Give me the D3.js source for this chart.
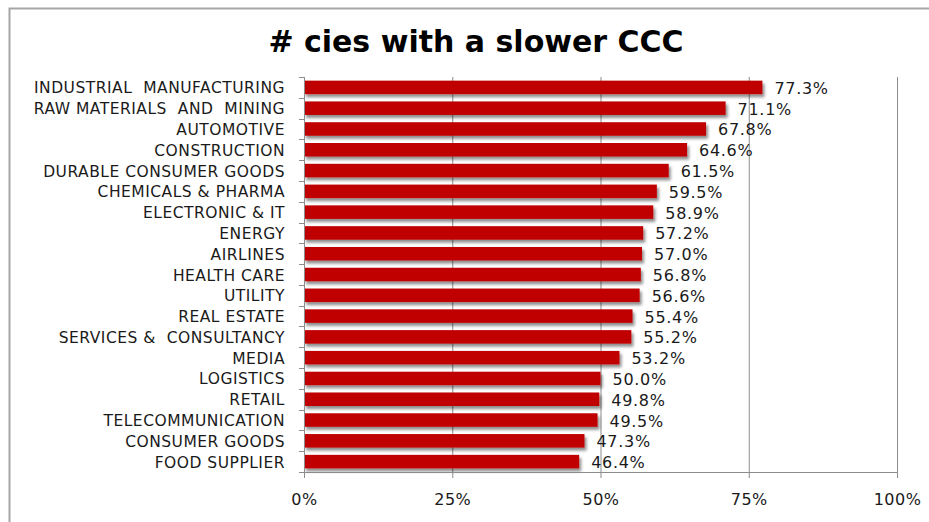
<!DOCTYPE html>
<html>
<head>
<meta charset="utf-8">
<script src="https://cdn.jsdelivr.net/npm/d3@7"></script>
<style>
  html, body { margin: 0; padding: 0; background: #fff; }
  svg { display: block; font-family: "DejaVu Sans", Verdana, sans-serif; }
</style>
</head>
<body>
<svg id="chart" width="929" height="522"></svg>
<script>
// Sectors and share of companies with a slower cash conversion cycle
const categories = [
  "INDUSTRIAL  MANUFACTURING",
  "RAW MATERIALS  AND  MINING",
  "AUTOMOTIVE",
  "CONSTRUCTION",
  "DURABLE CONSUMER GOODS",
  "CHEMICALS & PHARMA",
  "ELECTRONIC & IT",
  "ENERGY",
  "AIRLINES",
  "HEALTH CARE",
  "UTILITY",
  "REAL ESTATE",
  "SERVICES &  CONSULTANCY",
  "MEDIA",
  "LOGISTICS",
  "RETAIL",
  "TELECOMMUNICATION",
  "CONSUMER GOODS",
  "FOOD SUPPLIER"
];
const values = [77.3, 71.1, 67.8, 64.6, 61.5, 59.5, 58.9, 57.2, 57.0, 56.8,
                56.6, 55.4, 55.2, 53.2, 50.0, 49.8, 49.5, 47.3, 46.4];
const tickValues = [0, 25, 50, 75, 100];
const title = "# cies with a slower CCC";

const svg = d3.select("#chart");
const W = 929, H = 522;

// outer chart frame
svg.append("rect")
  .attr("x", 9.5).attr("y", 8.5)
  .attr("width", W + 20).attr("height", H + 20)
  .attr("fill", "#fff")
  .attr("stroke", "#a6a6a6").attr("stroke-width", 2);

const plot = { left: 304, right: 897, top: 77, bottom: 472 };

const x = d3.scaleLinear().domain([0, 100]).range([plot.left, plot.right]);
const y = d3.scaleBand().domain(categories)
  .range([plot.top, plot.bottom]).paddingInner(0.35).paddingOuter(0.175);

// drop shadow for bars
const defs = svg.append("defs");
const f = defs.append("filter").attr("id", "shadow")
  .attr("x", "-5%").attr("y", "-30%").attr("width", "115%").attr("height", "190%");
f.append("feGaussianBlur").attr("in", "SourceAlpha").attr("stdDeviation", 1.6).attr("result", "b");
f.append("feOffset").attr("in", "b").attr("dx", 2).attr("dy", 2.5).attr("result", "o");
f.append("feComponentTransfer").attr("in", "o").attr("result", "s")
  .append("feFuncA").attr("type", "linear").attr("slope", 0.45);
const m = f.append("feMerge");
m.append("feMergeNode").attr("in", "s");
m.append("feMergeNode").attr("in", "SourceGraphic");

// vertical gridlines
svg.append("g").selectAll("line")
  .data(tickValues.slice(1))
  .join("line")
  .attr("x1", d => x(d) + 0.5).attr("x2", d => x(d) + 0.5)
  .attr("y1", plot.top).attr("y2", plot.bottom)
  .attr("stroke", "#8c8c8c").attr("stroke-width", 1);

// bars
svg.append("g").selectAll("rect")
  .data(values)
  .join("rect")
  .attr("x", x(0))
  .attr("y", (d, i) => y(categories[i]))
  .attr("width", d => x(d) - x(0))
  .attr("height", y.bandwidth())
  .attr("fill", "#c00000")
  .attr("filter", "url(#shadow)");

// value labels
svg.append("g").selectAll("text")
  .data(values)
  .join("text")
  .attr("x", d => x(d) + 12)
  .attr("y", (d, i) => y(categories[i]) + y.bandwidth() / 2 + 6.5)
  .attr("font-size", 16)
  .attr("letter-spacing", 0.7)
  .attr("fill", "#1a1a1a")
  .text(d => d.toFixed(1) + "%");

// x axis
const xAxis = svg.append("g")
  .attr("transform", `translate(0,${plot.bottom})`)
  .call(d3.axisBottom(x).tickValues(tickValues).tickSize(6).tickPadding(16)
    .tickFormat(d => d + "%"));
xAxis.select(".domain").attr("stroke", "#8c8c8c").attr("d", `M${plot.left},0.5H${plot.right + 0.5}`);
xAxis.selectAll(".tick line").attr("stroke", "#8c8c8c");
xAxis.selectAll(".tick text")
  .attr("font-family", "DejaVu Sans, Verdana, sans-serif")
  .attr("font-size", 16).attr("letter-spacing", 0.5).attr("fill", "#1a1a1a");

// y axis: ticks sit between categories
const yAxisG = svg.append("g").attr("transform", `translate(${plot.left},0)`);
yAxisG.append("line")
  .attr("x1", 0.5).attr("x2", 0.5)
  .attr("y1", plot.top).attr("y2", plot.bottom)
  .attr("stroke", "#8c8c8c");
const bounds = d3.range(categories.length + 1).map(i => plot.top + i * (plot.bottom - plot.top) / categories.length);
yAxisG.selectAll("line.tk")
  .data(bounds)
  .join("line").attr("class", "tk")
  .attr("x1", -5).attr("x2", 0)
  .attr("y1", d => Math.round(d) + 0.5).attr("y2", d => Math.round(d) + 0.5)
  .attr("stroke", "#8c8c8c");

// category labels
svg.append("g").selectAll("text")
  .data(categories)
  .join("text")
  .attr("x", 285)
  .attr("y", d => y(d) + y.bandwidth() / 2 + 6)
  .attr("text-anchor", "end")
  .attr("font-size", 15.5)
  .attr("letter-spacing", 0.5)
  .attr("fill", "#1a1a1a")
  .style("white-space", "pre")
  .attr("xml:space", "preserve")
  .text(d => d);

// title
svg.append("text")
  .attr("x", 476).attr("y", 52)
  .attr("text-anchor", "middle")
  .attr("font-size", 30)
  .attr("font-weight", "bold")
  .attr("fill", "#000")
  .text(title);
</script>
</body>
</html>
